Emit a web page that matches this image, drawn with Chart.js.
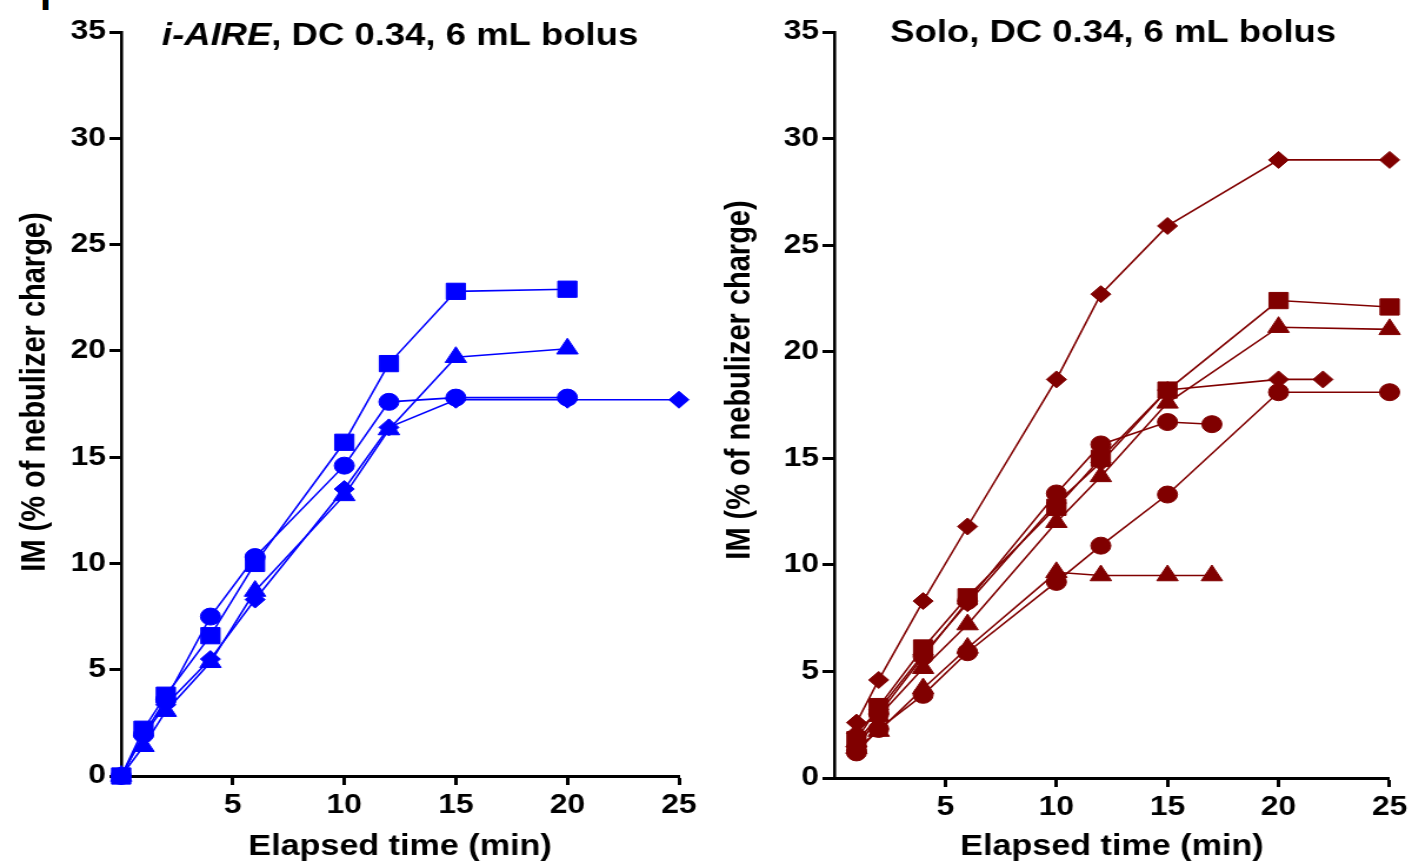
<!DOCTYPE html>
<html>
<head>
<meta charset="utf-8">
<script src="https://cdn.jsdelivr.net/npm/chart.js@4.4.0/dist/chart.umd.min.js"></script>
<style>
  body { margin: 0; background: #fff; width: 1412px; height: 861px; overflow: hidden; position: relative; }
  canvas { position: absolute; top: 0; }
  #left { left: 0; }
  #right { left: 706px; }
  #tag { position: absolute; left: 40px; top: -26px; font: bold 40px "Liberation Sans", Arial, sans-serif; color: #000; }
</style>
</head>
<body>
<div id="tag">I</div>
<!-- the source figure is stretched sideways, so each canvas is drawn 600 wide and shown at 706 -->
<canvas id="left" width="600" height="861" style="width:706px;height:861px"></canvas>
<canvas id="right" width="600" height="861" style="width:706px;height:861px"></canvas>
<script>
// i-AIRE panel (blue)
const iaireTimes = [0, 1, 2, 4, 6, 10, 12, 15, 20];
const iaireTimesLong = [0, 1, 2, 4, 6, 10, 12, 15, 20, 25];
const iaireSquare = [0, 2.2, 3.8, 6.6, 10.0, 15.7, 19.4, 22.8, 22.9];
const iaireCircle = [0, 1.95, 3.6, 7.5, 10.3, 14.6, 17.6, 17.8, 17.8];
const iaireTriangle = [0, 1.4, 3.05, 5.35, 8.7, 13.2, 16.3, 19.7, 20.1];
const iaireDiamond = [0, 1.9, 3.35, 5.5, 8.3, 13.5, 16.4, 17.7, 17.7, 17.7];

// Solo panel (dark red)
const soloTimes = [1, 2, 4, 6, 10, 12, 15, 20, 25];
const soloTimes22 = [1, 2, 4, 6, 10, 12, 15, 20, 22];
const soloTimes17 = [1, 2, 4, 6, 10, 12, 15, 17];
const soloDiamondA = [2.6, 4.6, 8.3, 11.8, 18.7, 22.7, 25.9, 29.0, 29.0];
const soloSquare = [1.8, 3.35, 6.1, 8.5, 12.7, 15.0, 18.2, 22.4, 22.1];
const soloTriangleA = [1.7, 2.9, 5.15, 7.2, 12.0, 14.15, 17.6, 21.15, 21.05];
const soloCircleA = [1.2, 2.3, 3.9, 5.9, 9.2, 10.9, 13.3, 18.1, 18.1];
const soloDiamondB = [2.1, 3.2, 5.8, 8.2, 12.9, 14.8, 18.2, 18.7, 18.7];
const soloCircleB = [1.3, 3.0, 5.7, 8.3, 13.35, 15.65, 16.7, 16.6];
const soloTriangleB = [1.4, 2.2, 4.2, 6.1, 9.65, 9.5, 9.5, 9.5];

const yTicks = [0, 5, 10, 15, 20, 25, 30, 35];
const xTicks = [5, 10, 15, 20, 25];

const BLUE = '#0000ff';
const MAROON = '#800000';
const FAMILY = '"Liberation Sans", Arial, sans-serif';
const sizes = { circle: 8.5, rect: 11.5, triangle: 10.5, rectRot: 8.5 };

function series(times, vals, style, color) {
  return {
    data: times.map((t, i) => ({ x: t, y: vals[i] })),
    showLine: true,
    borderColor: color,
    backgroundColor: color,
    borderWidth: 1.6,
    pointStyle: style,
    pointRadius: sizes[style],
    pointBackgroundColor: color,
    pointBorderColor: color,
    pointBorderWidth: 1,
    clip: false
  };
}

// panel title (mixed italic/bold) and the rotated y title
const panelTitle = {
  id: 'panelTitle',
  afterDraw(chart, args, o) {
    const ctx = chart.ctx;
    ctx.save();
    ctx.fillStyle = '#000';
    ctx.textBaseline = 'middle';
    let total = 0;
    o.parts.forEach(p => { ctx.font = p.font; p.w = ctx.measureText(p.text).width; total += p.w; });
    let x = o.x - total / 2;
    o.parts.forEach(p => { ctx.font = p.font; ctx.fillText(p.text, x, o.y); x += p.w; });

    ctx.translate(o.yTitleX, o.yTitleY);
    ctx.rotate(-Math.PI / 2);
    ctx.font = 'bold 29px ' + FAMILY;
    ctx.textAlign = 'center';
    ctx.fillText('IM (% of nebulizer charge)', 0, 0);
    ctx.restore();
  }
};

function makeChart(id, datasets, cfg) {
  const tickFont = { family: FAMILY, size: 27, weight: 'bold' };
  const titleFont = { family: FAMILY, size: 29, weight: 'bold', lineHeight: 1.0 };
  return new Chart(document.getElementById(id), {
    type: 'scatter',
    data: { datasets },
    options: {
      responsive: false,
      animation: false,
      layout: { padding: { left: 0, top: 32, right: cfg.padRight, bottom: 0 } },
      plugins: {
        legend: { display: false },
        tooltip: { enabled: false },
        panelTitle: cfg.title
      },
      scales: {
        x: {
          type: 'linear',
          min: 0,
          max: 25,
          afterFit: s => { s.height = cfg.xH; },
          afterBuildTicks: s => { s.ticks = xTicks.map(v => ({ value: v })); },
          ticks: { color: '#000', font: tickFont, padding: 4, maxRotation: 0 },
          grid: { drawOnChartArea: false, tickLength: 9, tickWidth: 3, tickColor: '#000' },
          border: { width: 3, color: '#000' },
          title: { display: true, text: 'Elapsed time (min)', color: '#000', font: titleFont, padding: { top: 0, bottom: 0 } }
        },
        y: {
          min: 0,
          max: 35,
          afterFit: s => { s.width = cfg.yW; },
          afterBuildTicks: s => { s.ticks = yTicks.map(v => ({ value: v })); },
          ticks: { color: '#000', font: tickFont, padding: 3 },
          grid: { drawOnChartArea: false, tickLength: 10, tickWidth: 3, tickColor: '#000' },
          border: { width: 2.6, color: '#000' }
        }
      }
    },
    plugins: [panelTitle]
  });
}

makeChart('left', [
  series(iaireTimes, iaireCircle, 'circle', BLUE),
  series(iaireTimes, iaireSquare, 'rect', BLUE),
  series(iaireTimes, iaireTriangle, 'triangle', BLUE),
  series(iaireTimesLong, iaireDiamond, 'rectRot', BLUE)
], {
  padRight: 23, yW: 103, xH: 85,
  title: {
    x: 340, y: 36, yTitleX: 30, yTitleY: 392,
    parts: [
      { text: 'i-AIRE', font: 'italic bold 31px ' + FAMILY },
      { text: ', DC 0.34, 6 mL bolus', font: 'bold 31px ' + FAMILY }
    ]
  }
});

makeChart('right', [
  series(soloTimes, soloDiamondA, 'rectRot', MAROON),
  series(soloTimes, soloSquare, 'rect', MAROON),
  series(soloTimes, soloTriangleA, 'triangle', MAROON),
  series(soloTimes, soloCircleA, 'circle', MAROON),
  series(soloTimes22, soloDiamondB, 'rectRot', MAROON),
  series(soloTimes17, soloCircleB, 'circle', MAROON),
  series(soloTimes17, soloTriangleB, 'triangle', MAROON)
], {
  padRight: 10, yW: 109, xH: 83,
  title: {
    x: 346, y: 33, yTitleX: 29, yTitleY: 380,
    parts: [
      { text: 'Solo, DC 0.34, 6 mL bolus', font: 'bold 31px ' + FAMILY }
    ]
  }
});
</script>
</body>
</html>
